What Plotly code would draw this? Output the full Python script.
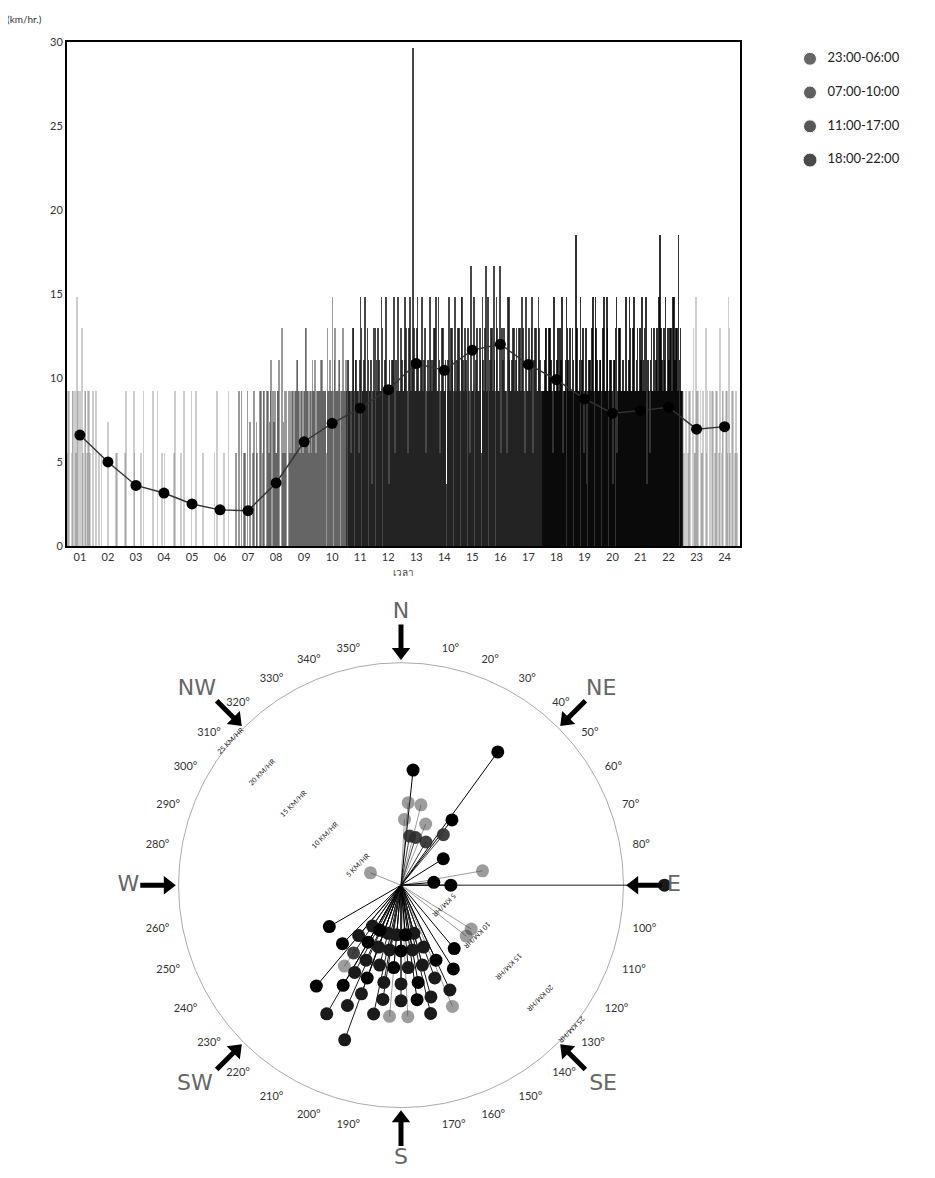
import plotly.graph_objects as go

KT_TO_KMH = 1.852

# ---------------- top chart data ----------------
hours = list(range(1, 25))
hour_labels = [f"{h:02d}" for h in hours]
mean_kmh = [6.6, 5.0, 3.6, 3.15, 2.5, 2.15, 2.1, 3.75, 6.2, 7.3, 8.2, 9.3,
            10.85, 10.45, 11.65, 12.0, 10.8, 9.9, 8.75, 7.9, 8.05, 8.25, 6.95, 7.1]
period_labels = ["23:00-06:00", "07:00-10:00", "11:00-17:00", "18:00-22:00"]
hour_period = [0, 0, 0, 0, 0, 0, 1, 1, 1, 1, 2, 2, 2, 2, 2, 2, 2, 3, 3, 3, 3, 3, 0, 0]

# individual readings (knots, one base-36 character each; 0 = calm), two days
obs_day1 = [
    "5503558057053505", "0500300040000300", "0050000300005000", "0000500030000050",
    "0005000000500030", "0000005000300000", "0300503004050305", "3505465535074305",
    "5535655357553565", "5565575586556575", "5655765385657565", "5675856525686557",
    "567385g576586755", "6578565752657586", "7585675958657367", "5867957536758657",
    "5757853575867575", "5675753565785675", "575a565752567586", "5658575626857565",
    "5675857565786375", "575a678567587565", "5053507350530750", "0535073505835053",
]
obs_day2 = [
    "3505035003505305", "0030000400003000", "0300005000300000", "0500003000000300",
    "0300000500000000", "0000300000005000", "0050030500304050", "5053504356035503",
    "3556535575356535", "5655356557565556", "6537565675856527", "7565758565635856",
    "5857567585657368", "5675837565876557", "5867573585756859", "8575685976538567",
    "6575758567375865", "5757658575635867", "5657586375658575", "6575856567375658",
    "5857565786525657", "6587565775867a75", "3505053850350305", "5035305053705350",
]

# ---------------- wind rose data ----------------
rose_dir = [36, 6, 5, 14, 3, 22, 38, 10, 17, 30, 40, 58, 80, 85, 90, 90, 292, 240,
            122, 128, 140, 148, 200,
            165, 175, 185, 195, 205, 215,
            160, 170, 180, 190, 200, 210, 220,
            155, 165, 175, 185, 195, 205, 215, 225,
            160, 170, 180, 190, 200, 208, 215,
            155, 165, 172, 180, 189, 200, 210,
            157, 167, 177, 185, 192, 204, 220,
            210]
rose_kmh = [18.5, 13.0, 9.3, 9.3, 7.4, 7.4, 9.3, 5.6, 5.6, 5.6, 7.4, 5.6, 9.3, 3.7, 5.6, 29.6, 3.7, 9.3,
            9.3, 9.3, 9.3, 11.1, 18.5,
            5.6, 5.6, 5.6, 5.6, 5.6, 5.6,
            7.4, 7.4, 7.4, 7.4, 7.4, 7.4, 7.4,
            9.3, 9.3, 9.3, 9.3, 9.3, 9.3, 9.3, 9.3,
            11.1, 11.1, 11.1, 11.1, 11.1, 11.1, 11.1,
            13.0, 13.0, 13.0, 13.0, 13.0, 13.0, 13.0,
            14.8, 14.8, 14.8, 14.8, 14.8, 14.8, 14.8,
            16.7]
rose_period = [3, 3, 0, 0, 0, 0, 3, 1, 1, 1, 1, 3, 0, 3, 3, 2, 0, 3,
               0, 0, 3, 3, 2,
               2, 3, 2, 2, 3, 2,
               2, 2, 3, 2, 2, 3, 2,
               3, 2, 2, 3, 2, 2, 1, 3,
               2, 3, 2, 2, 3, 2, 0,
               2, 2, 3, 2, 2, 2, 3,
               0, 2, 0, 0, 2, 2, 3,
               2]

compass_dirs = [0, 45, 90, 135, 180, 225, 270, 315]
compass_names = ["N", "NE", "E", "SE", "S", "SW", "W", "NW"]
degree_ticks = list(range(0, 360, 10))
degree_text = ["" if d % 90 == 0 else f"{d}°" for d in degree_ticks]
speed_rings = [5, 10, 15, 20, 25]
speed_text = [f"{s} KM/HR" for s in speed_rings]

# ---------------- styles ----------------
period_colors = ["#3c3c3c", "#2c2c2c", "#1a1a1a", "#000000"]
legend_colors = ["#262626", "#1c1c1c", "#111111", "#000000"]
bar_opacity = [0.26, 0.48, 0.8, 0.8]
rose_opacity = [0.5, 0.9, 1.0, 1.0]
legend_sizes = [13, 13, 13, 14]
FONT = "Lato, DejaVu Sans, sans-serif"
letter_pos = ["top center", "top right", "middle right", "bottom right",
              "bottom center", "bottom left", "middle left", "top left"]
letter_r = [29.4, 29.4, 29.9, 29.9, 29.5, 29.9, 29.4, 29.4]

# page geometry: the html body has an 8px margin
PAGE_W, PAGE_H, OFF = 935, 1178, 8
FW, FH = PAGE_W - 2 * OFF, PAGE_H - 2 * OFF


def fx(px):
    return (px - OFF) / FW


def fy(py):
    return 1 - (py - OFF) / FH


cx, cy = 401, 888
R_in = 225
R_out = min(280, OFF + FH - cy)
RING_MAX = 25
OUT_MAX = RING_MAX * R_out / R_in

fig = go.Figure()

# sticks (individual readings)
for p in range(4):
    xs, ys = [], []
    for day, obs in enumerate((obs_day1, obs_day2)):
        for h, s, hp in zip(hours, obs, hour_period):
            if hp != p:
                continue
            n = len(s)
            for i, c in enumerate(s):
                xs.append(h - 0.5 + (i + 0.25 + 0.5 * day) / n)
                ys.append(int(c, 36) * KT_TO_KMH)
    fig.add_trace(go.Bar(x=xs, y=ys, width=0.4 / 16, xaxis="x", yaxis="y",
                         marker=dict(color=period_colors[p], opacity=bar_opacity[p], line_width=0),
                         hoverinfo="skip", showlegend=False))

# hourly mean line
fig.add_trace(go.Scatter(x=hours, y=mean_kmh, mode="lines+markers", xaxis="x", yaxis="y",
                         line=dict(color="#333333", width=1.4),
                         marker=dict(color="#000000", size=11), showlegend=False))

# legend (markers + labels on a hidden axis)
leg_y = list(range(len(period_labels) - 1, -1, -1))
fig.add_trace(go.Scatter(x=[0] * 4, y=leg_y, mode="markers", xaxis="x2", yaxis="y2",
                         marker=dict(color=legend_colors, size=legend_sizes),
                         cliponaxis=False, showlegend=False, hoverinfo="skip"))
fig.add_trace(go.Scatter(x=[0.15] * 4, y=leg_y, mode="text", text=period_labels,
                         textposition="middle right", xaxis="x2", yaxis="y2",
                         textfont=dict(family=FONT, size=13, color="#222222"),
                         cliponaxis=False, showlegend=False, hoverinfo="skip"))

# inner polar carries the degree ring, the 25 km/h circle and NW speed labels
fig.add_trace(go.Scatterpolar(r=[0], theta=[0], mode="markers", subplot="polar",
                              marker=dict(size=1, opacity=0), showlegend=False, hoverinfo="skip"))

# wind rose spokes and points
for p in range(4):
    r, th = [], []
    for d, v, pp in zip(rose_dir, rose_kmh, rose_period):
        if pp == p:
            r += [0, v, None]
            th += [d, d, None]
    fig.add_trace(go.Scatterpolar(r=r, theta=th, mode="lines", subplot="polar2",
                                  line=dict(color=period_colors[p], width=1),
                                  opacity=rose_opacity[p], connectgaps=False,
                                  showlegend=False, hoverinfo="skip"))
for p in range(4):
    r = [v for v, pp in zip(rose_kmh, rose_period) if pp == p]
    th = [d for d, pp in zip(rose_dir, rose_period) if pp == p]
    fig.add_trace(go.Scatterpolar(r=r, theta=th, mode="markers", subplot="polar2",
                                  marker=dict(color=period_colors[p], size=13,
                                              opacity=rose_opacity[p]),
                                  cliponaxis=False, showlegend=False))

# compass arrows
shaft_r, shaft_t = [], []
for d in compass_dirs:
    shaft_r += [29.3, 26.6, None]
    shaft_t += [d, d, None]
fig.add_trace(go.Scatterpolar(r=shaft_r, theta=shaft_t, mode="lines", subplot="polar2",
                              line=dict(color="#000000", width=5), connectgaps=False,
                              showlegend=False, hoverinfo="skip"))
fig.add_trace(go.Scatterpolar(r=[26.2] * 8, theta=compass_dirs, mode="markers", subplot="polar2",
                              marker=dict(symbol="triangle-up", size=16, color="#000000",
                                          angle=[(d + 180) % 360 for d in compass_dirs]),
                              cliponaxis=False, showlegend=False, hoverinfo="skip"))
fig.add_trace(go.Scatterpolar(r=letter_r, theta=compass_dirs, mode="text", subplot="polar2",
                              text=compass_names, textposition=letter_pos, cliponaxis=False,
                              textfont=dict(family="DejaVu Sans, sans-serif", size=22, color="#666666"),
                              showlegend=False, hoverinfo="skip"))

# ---------------- layout ----------------
fig.update_layout(
    width=FW, height=FH, margin=dict(l=0, r=0, t=0, b=0),
    paper_bgcolor="white", plot_bgcolor="white",
    barmode="overlay", bargap=0, showlegend=False,
    font=dict(family=FONT, color="#333333"),
    xaxis=dict(domain=[fx(67), fx(740)], range=[0.54, 24.55], tickvals=hours, ticktext=hour_labels,
               showline=True, mirror=True, linecolor="#000000", linewidth=2, showgrid=False,
               zeroline=False, ticks="", tickfont=dict(size=11, color="#333333"),
               title=dict(text="เวลา", font=dict(size=10, color="#444444"), standoff=7),
               anchor="y"),
    yaxis=dict(domain=[fy(545), fy(35)], range=[0, 30], tickvals=[0, 5, 10, 15, 20, 25, 30],
               showline=True, mirror=True, linecolor="#000000", linewidth=2, showgrid=False,
               zeroline=False, ticks="", tickfont=dict(size=11, color="#333333"), anchor="x"),
    xaxis2=dict(domain=[fx(810), 1.0], range=[0, 1], visible=False, anchor="y2"),
    yaxis2=dict(domain=[fy(166), fy(41)], range=[-0.33, 3.33], visible=False, anchor="x2"),
    polar=dict(
        domain=dict(x=[fx(cx - R_in), fx(cx + R_in)], y=[fy(cy + R_in), fy(cy - R_in)]),
        bgcolor="rgba(0,0,0,0)",
        radialaxis=dict(range=[0, RING_MAX], angle=135, tickvals=speed_rings, ticktext=speed_text,
                        showline=False, showgrid=False, ticks="", tickangle=90,
                        side="counterclockwise",
                        tickfont=dict(size=7, color="#222222")),
        angularaxis=dict(rotation=90, direction="clockwise", thetaunit="degrees",
                         tickvals=degree_ticks, ticktext=degree_text, showgrid=False,
                         showline=True, linecolor="#aaaaaa", linewidth=1,
                         ticks="outside", ticklen=10, tickcolor="rgba(0,0,0,0)",
                         tickfont=dict(size=11, color="#333333")),
    ),
    polar2=dict(
        domain=dict(x=[fx(cx - R_out), fx(cx + R_out)], y=[fy(cy + R_out), fy(cy - R_out)]),
        bgcolor="rgba(0,0,0,0)",
        radialaxis=dict(range=[0, OUT_MAX], angle=-45, tickvals=speed_rings, ticktext=speed_text,
                        showline=False, showgrid=False, ticks="", tickangle=90,
                        side="counterclockwise",
                        tickfont=dict(size=7, color="#222222")),
        angularaxis=dict(rotation=90, direction="clockwise", showgrid=False, showline=False,
                         ticks="", showticklabels=False),
    ),
    annotations=[dict(text="(km/hr.)", x=fx(5), y=fy(12), xref="paper", yref="paper",
                      xanchor="left", yanchor="middle", showarrow=False,
                      font=dict(size=10, color="#333333"))],
)

fig.write_html("out.html")
